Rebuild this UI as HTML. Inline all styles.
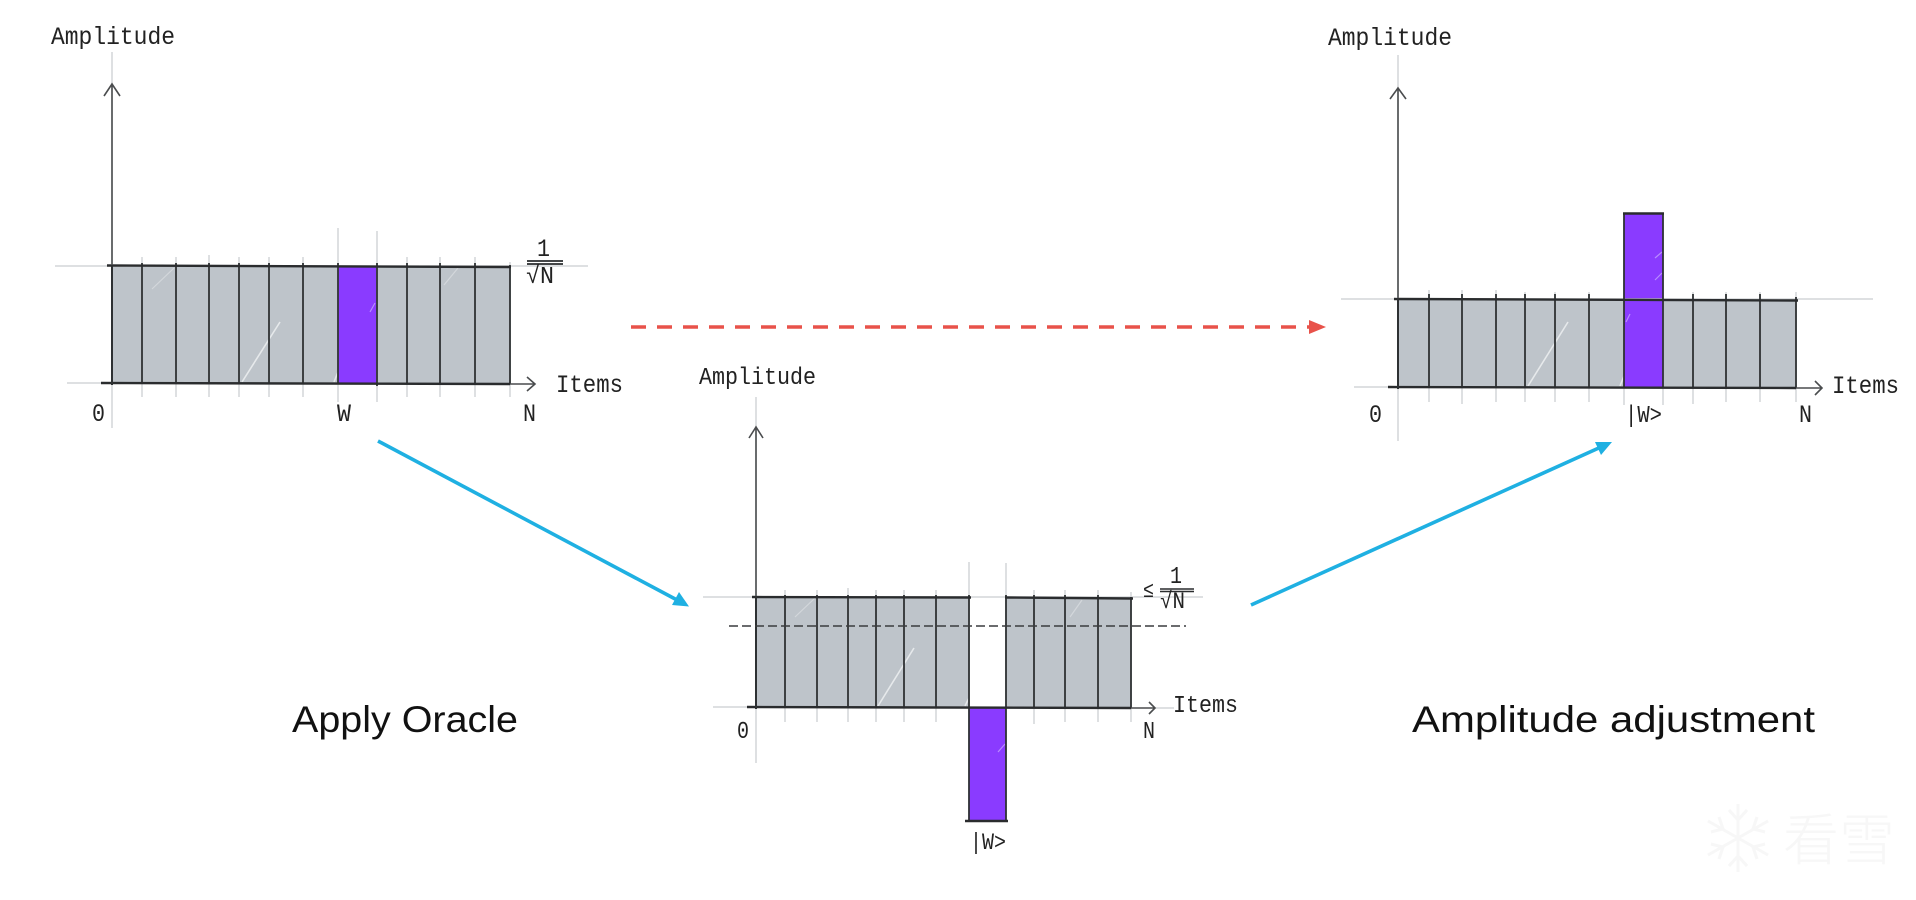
<!DOCTYPE html>
<html><head><meta charset="utf-8"><style>
html,body{margin:0;padding:0;background:#fff;width:1916px;height:900px;overflow:hidden}
svg{display:block}
text{font-family:"Liberation Mono",monospace;fill:#222}
.s{font-family:"Liberation Sans",sans-serif;fill:#111;font-size:37px}
.g{stroke:#d4d6d8;stroke-width:1.5;fill:none}
.k{stroke:#2e3133;stroke-width:1.8;fill:none}
.b{stroke:#2a2c2e;stroke-width:2.4;fill:none}
.a{stroke:#4a4c4e;stroke-width:1.6;fill:none}
.f{fill:#bec4ca}
.p{fill:#8a3bff}
.w{stroke:#e6e9eb;stroke-width:1.6;fill:none}
.t{stroke:#d3d7db;stroke-width:1.2;fill:none}
</style></head><body>
<svg width="1916" height="900" viewBox="0 0 1916 900" xmlns="http://www.w3.org/2000/svg">
<rect width="1916" height="900" fill="#fff"/>

<!-- Chart 1 -->
<rect class="f" x="112" y="266" width="398" height="117"/>
<rect class="p" x="338" y="266" width="39" height="117"/>
<path class="w" d="M242 382L280 322M334 382L338 372"/>
<path class="t" d="M152 289L174 268M444 285L458 268"/>
<path stroke="#b98cff" stroke-width="1.2" fill="none" d="M370 312L375 303"/>
<path class="g" d="M55 266H588M67 383H101M112 52V428M338 228V402M377 231V402M142 257V397M176 257V397M209 255V397M239 257V397M269 257V397M303 257V397M407 257V397M440 257V397M475 257V397M510 262V397"/>
<path class="k" d="M142 263V384M176 263V384M209 263V384M239 263V384M269 263V384M303 263V384M338 263V384M377 263V386M407 263V384M440 263V384M475 263V384M510 265V384"/>
<path class="b" d="M107 265.5L511 267M101 383L510 384"/>
<path class="a" d="M112 383V84M104 96L112 84L120 96M510 384H535M527 377L535 384L527 391"/>
<path d="M112 265V385" stroke="#2e3133" stroke-width="2"/>
<text x="51" y="44" font-size="25" textLength="124" lengthAdjust="spacingAndGlyphs">Amplitude</text>
<text x="556" y="392" font-size="25" textLength="67" lengthAdjust="spacingAndGlyphs">Items</text>
<text x="92" y="421" font-size="25" textLength="13" lengthAdjust="spacingAndGlyphs">0</text>
<text x="337" y="421" font-size="25" textLength="14" lengthAdjust="spacingAndGlyphs">W</text>
<text x="523" y="421" font-size="25" textLength="13" lengthAdjust="spacingAndGlyphs">N</text>
<text x="537" y="256" font-size="25" textLength="13" lengthAdjust="spacingAndGlyphs">1</text>
<path d="M527 261H563M527 264H563" stroke="#2a2c2e" stroke-width="1.8"/>
<text x="526" y="283" font-size="24" textLength="28" lengthAdjust="spacingAndGlyphs">√N</text>

<!-- Chart 2 -->
<rect class="f" x="756" y="597" width="213" height="110"/>
<rect class="f" x="1006" y="598" width="125" height="109"/>
<rect class="p" x="969" y="707" width="37" height="114"/>
<path class="w" d="M878 706L914 648M965 706L969 698"/>
<path class="t" d="M795 617L815 598M1070 617L1082 600"/>
<path stroke="#b98cff" stroke-width="1.2" fill="none" d="M998 752L1005 744"/>
<path class="g" d="M703 597H1203M713 707H747M1155 708H1174M756 397V763M969 562V707M1006 563V707M785 590V722M817 590V722M848 588V722M876 590V722M904 590V722M936 590V722M1034 590V724M1065 590V722M1098 590V722M1131 592V722"/>
<path class="k" d="M785 595V708M817 595V708M848 595V708M876 595V708M904 595V708M936 595V708M969 595V708M1006 595V708M1034 595V708M1065 595V708M1098 595V708M1131 597V708M969 707V822M1006 707V822"/>
<path class="b" d="M752 597L971 597.5M1005 597.5L1133 598.5M747 707L1131 708M965 821H1008"/>
<path class="a" d="M756 707V427M749 438L756 427L763 438M1131 708H1155M1149 702L1155 708L1149 714"/>
<path d="M756 596V709" stroke="#2e3133" stroke-width="2"/>
<path d="M729 626H1186" stroke="#3a3c3e" stroke-width="1.6" stroke-dasharray="9 4" fill="none"/>
<text x="699" y="384" font-size="24" textLength="117" lengthAdjust="spacingAndGlyphs">Amplitude</text>
<text x="1173" y="712" font-size="24" textLength="65" lengthAdjust="spacingAndGlyphs">Items</text>
<text x="737" y="738" font-size="24" textLength="12" lengthAdjust="spacingAndGlyphs">0</text>
<text x="1143" y="738" font-size="24" textLength="12" lengthAdjust="spacingAndGlyphs">N</text>
<text x="970" y="849" font-size="23" textLength="36" lengthAdjust="spacingAndGlyphs">|W&gt;</text>
<text x="1143" y="597" font-size="22" textLength="11" lengthAdjust="spacingAndGlyphs">≤</text>
<text x="1170" y="583" font-size="24" textLength="12" lengthAdjust="spacingAndGlyphs">1</text>
<path d="M1160 589H1194M1160 591.5H1194" stroke="#2a2c2e" stroke-width="1.6"/>
<text x="1160" y="608" font-size="23" textLength="25" lengthAdjust="spacingAndGlyphs">√N</text>

<!-- Chart 3 -->
<rect class="f" x="1398" y="299" width="398" height="88"/>
<rect class="p" x="1624" y="213" width="39" height="174"/>
<path class="w" d="M1528 386L1568 322M1620 386L1624 376"/>
<path stroke="#b98cff" stroke-width="1.2" fill="none" d="M1655 258L1662 252M1655 280L1662 273M1626 322L1630 314"/>
<path class="g" d="M1341 299H1873M1354 387H1388M1398 55V441M1624 387V405M1663 387V405M1429 290V402M1462 290V404M1496 290V402M1525 292V402M1555 292V402M1589 292V402M1693 292V404M1726 292V402M1760 292V402M1796 292V402"/>
<path class="k" d="M1429 294V388M1462 294V388M1496 294V388M1525 294V388M1555 294V388M1589 294V388M1693 294V388M1726 294V388M1760 294V388M1796 297V388M1624 213V388M1663 213V388"/>
<path class="b" d="M1394 299L1798 300.5M1388 387L1796 388M1623 213.5H1664"/>
<path class="a" d="M1398 387V88M1390 99L1398 88L1406 99M1796 388H1822M1815 381L1822 388L1815 395"/>
<path d="M1398 298V389" stroke="#2e3133" stroke-width="2"/>
<text x="1328" y="45" font-size="25" textLength="124" lengthAdjust="spacingAndGlyphs">Amplitude</text>
<text x="1832" y="393" font-size="25" textLength="67" lengthAdjust="spacingAndGlyphs">Items</text>
<text x="1369" y="422" font-size="25" textLength="13" lengthAdjust="spacingAndGlyphs">0</text>
<text x="1625" y="422" font-size="24" textLength="37" lengthAdjust="spacingAndGlyphs">|W&gt;</text>
<text x="1799" y="422" font-size="25" textLength="13" lengthAdjust="spacingAndGlyphs">N</text>

<!-- Connectors -->
<path d="M378 441L678 600.5" stroke="#1fb0e2" stroke-width="3.6" fill="none"/>
<path d="M689 606.5L672 605L679 592Z" fill="#1fb0e2"/>
<path d="M1251 605L1601 447" stroke="#1fb0e2" stroke-width="3.6" fill="none"/>
<path d="M1612 442L1601 455L1595 442Z" fill="#1fb0e2"/>
<path d="M631 327H1312" stroke="#e8524a" stroke-width="3.6" stroke-dasharray="15 11" fill="none"/>
<path d="M1326 327L1309 320V334Z" fill="#e8524a"/>

<!-- Captions -->
<text class="s" x="292" y="732" textLength="226" lengthAdjust="spacingAndGlyphs">Apply Oracle</text>
<text class="s" x="1412" y="732" textLength="403" lengthAdjust="spacingAndGlyphs">Amplitude adjustment</text>

<!-- Watermark -->
<g stroke="#f7f7f7" stroke-width="3" fill="none">
<path d="M1738 804V872M1708 821L1768 855M1768 821L1708 855M1729 810L1738 820L1747 810M1729 866L1738 856L1747 866"/>
<path d="M1711 832L1723 829L1719 817M1765 832L1753 829L1757 817M1711 844L1723 847L1719 859M1765 844L1753 847L1757 859"/>
</g>
<text x="1783" y="860" font-size="56" style="font-family:'Noto Sans CJK SC',sans-serif;fill:#f7f7f7;font-weight:300" textLength="112">看雪</text>
</svg>
</body></html>
